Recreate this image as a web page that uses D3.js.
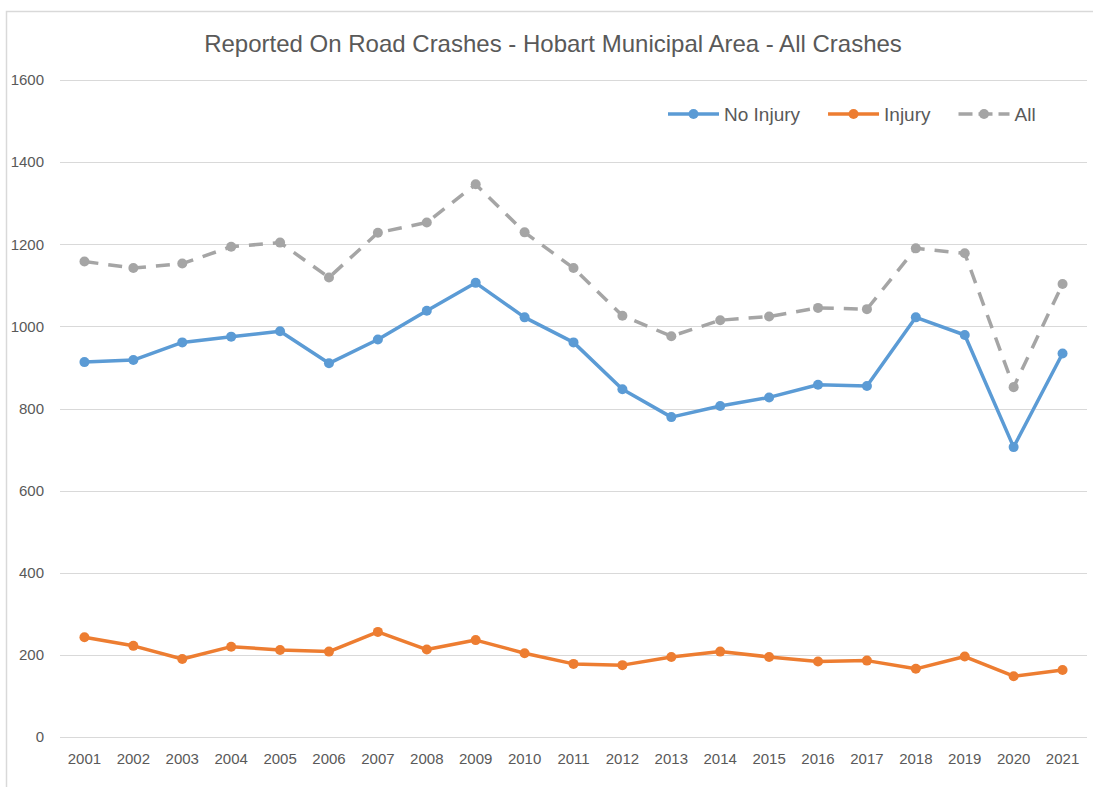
<!DOCTYPE html>
<html>
<head>
<meta charset="utf-8">
<script src="https://cdn.jsdelivr.net/npm/d3@7"></script>
<style>
  body { margin: 0; background: #fff; }
  text { font-family: "Liberation Sans", Arial, sans-serif; fill: #595959; }
</style>
</head>
<body>
<div id="chart"></div>
<script>
// values
var years = ['2001','2002','2003','2004','2005','2006','2007','2008','2009','2010','2011',
             '2012','2013','2014','2015','2016','2017','2018','2019','2020','2021'];
var noInjury = [913, 918, 961, 975, 988, 910, 968, 1038, 1106, 1022, 961,
                847, 779, 806, 827, 858, 855, 1022, 979, 706, 934];
var injury   = [243, 222, 190, 220, 212, 208, 256, 213, 236, 204, 178,
                175, 195, 208, 195, 184, 186, 166, 196, 148, 163];
var allCrashes = [1158, 1142, 1153, 1194, 1204, 1119, 1228, 1253, 1346, 1229, 1142,
                  1026, 976, 1015, 1024, 1045, 1042, 1190, 1178, 852, 1103];
var yTicks = [0, 200, 400, 600, 800, 1000, 1200, 1400, 1600];

var seriesList = [
  { name: 'No Injury', values: noInjury,   color: '#5B9BD5', dash: null },
  { name: 'Injury',    values: injury,     color: '#ED7D31', dash: null },
  { name: 'All',       values: allCrashes, color: '#A5A5A5', dash: '14,10' }
];

var W = 1093, H = 787;
var plot = { left: 60, right: 1087, top: 80, bottom: 737 };

var svg = d3.select('#chart').append('svg')
  .attr('width', W)
  .attr('height', H);

// chart border (only top/left visible in the cropped picture)
svg.append('rect')
  .attr('x', 6.5).attr('y', 11.5)
  .attr('width', W + 10).attr('height', H + 10)
  .attr('fill', 'none')
  .attr('stroke', '#d9d9d9')
  .attr('stroke-width', 1.5);

var x = d3.scaleBand()
  .domain(years)
  .range([plot.left, plot.right]);

var y = d3.scaleLinear()
  .domain([0, 1600])
  .range([plot.bottom, plot.top]);

// gridlines
svg.append('g')
  .selectAll('line')
  .data(yTicks)
  .enter()
  .append('line')
    .attr('x1', plot.left)
    .attr('x2', plot.right)
    .attr('y1', function(d) { return Math.round(y(d)) + 0.5; })
    .attr('y2', function(d) { return Math.round(y(d)) + 0.5; })
    .attr('stroke', '#d9d9d9')
    .attr('stroke-width', 1);

// y axis labels
var yAxis = svg.append('g')
  .attr('transform', 'translate(' + plot.left + ',0)')
  .call(d3.axisLeft(y).tickValues(yTicks).tickSize(0).tickPadding(16).tickFormat(d3.format('d')));
yAxis.select('.domain').remove();
yAxis.selectAll('text')
  .style('font-size', '15px')
  .attr('fill', '#595959');

// x axis labels
var xAxis = svg.append('g')
  .attr('transform', 'translate(0,' + plot.bottom + ')')
  .call(d3.axisBottom(x).tickSize(0).tickPadding(16));
xAxis.select('.domain').remove();
xAxis.selectAll('text')
  .style('font-size', '15px')
  .attr('fill', '#595959');

// title
svg.append('text')
  .attr('x', 553)
  .attr('y', 52)
  .attr('text-anchor', 'middle')
  .style('font-size', '24px')
  .text('Reported On Road Crashes - Hobart Municipal Area - All Crashes');

var line = d3.line()
  .x(function(d, i) { return x(years[i]) + x.bandwidth() / 2; })
  .y(function(d) { return y(d); });

seriesList.forEach(function(s) {
  var g = svg.append('g');
  g.append('path')
    .datum(s.values)
    .attr('d', line)
    .attr('fill', 'none')
    .attr('stroke', s.color)
    .attr('stroke-width', 3.5)
    .attr('stroke-linejoin', 'round')
    .attr('stroke-dasharray', s.dash);
  g.selectAll('circle')
    .data(s.values)
    .enter()
    .append('circle')
      .attr('cx', function(d, i) { return x(years[i]) + x.bandwidth() / 2; })
      .attr('cy', function(d) { return y(d); })
      .attr('r', 5)
      .attr('fill', s.color);
});

// legend
var legend = svg.append('g').attr('transform', 'translate(668,114)');
var lx = 0;
seriesList.forEach(function(s) {
  var item = legend.append('g').attr('transform', 'translate(' + lx + ',0)');
  item.append('line')
    .attr('x1', 0).attr('x2', 51)
    .attr('y1', 0).attr('y2', 0)
    .attr('stroke', s.color)
    .attr('stroke-width', 3.5)
    .attr('stroke-dasharray', s.dash ? '14,6' : null);
  item.append('circle')
    .attr('cx', 25.5).attr('cy', 0).attr('r', 5)
    .attr('fill', s.color);
  var t = item.append('text')
    .attr('x', 56)
    .attr('y', 6.5)
    .style('font-size', '19px')
    .text(s.name);
  lx += 56 + t.node().getComputedTextLength() + 28;
});
</script>
</body>
</html>
